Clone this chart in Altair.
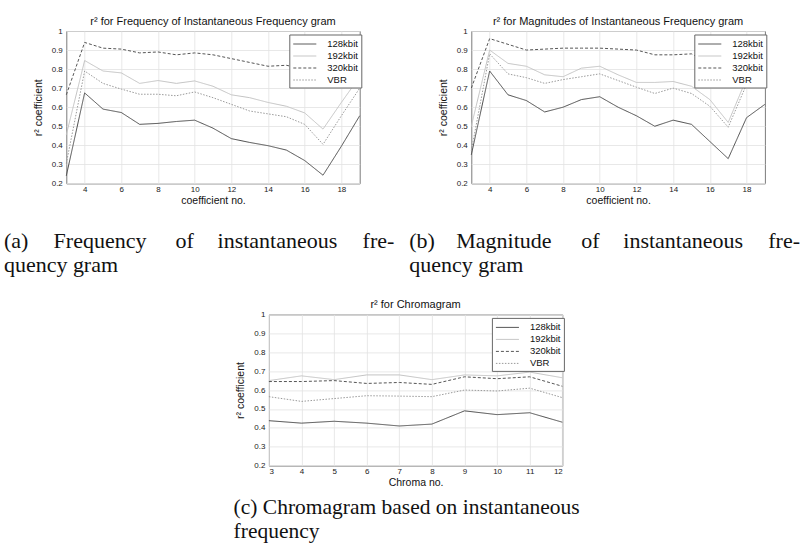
import altair as alt
import pandas as pd

# ---------------- data ----------------
rates = ["128kbit", "192kbit", "320kbit", "VBR"]
coef_no = list(range(3, 20))
chroma_no = list(range(3, 13))

# (a) Frequency of instantaneous frequency gram
a_128 = [0.24, 0.675, 0.59, 0.572, 0.51, 0.515, 0.525, 0.532, 0.49, 0.435, 0.415, 0.398, 0.375, 0.32, 0.243, 0.395, 0.555]
a_192 = [0.455, 0.845, 0.79, 0.78, 0.725, 0.74, 0.725, 0.738, 0.71, 0.665, 0.65, 0.625, 0.605, 0.57, 0.485, 0.625, 0.76]
a_320 = [0.665, 0.94, 0.91, 0.905, 0.885, 0.89, 0.875, 0.885, 0.875, 0.855, 0.835, 0.815, 0.82, 0.8, 0.75, 0.77, 0.79]
a_vbr = [0.305, 0.79, 0.725, 0.695, 0.668, 0.668, 0.66, 0.68, 0.65, 0.615, 0.58, 0.565, 0.55, 0.51, 0.405, 0.555, 0.70]

# (b) Magnitude of instantaneous frequency gram
b_128 = [0.35, 0.79, 0.665, 0.635, 0.575, 0.6, 0.64, 0.655, 0.6, 0.555, 0.5, 0.532, 0.51, 0.42, 0.33, 0.545, 0.615]
b_192 = [0.5, 0.9, 0.83, 0.815, 0.77, 0.76, 0.805, 0.815, 0.77, 0.73, 0.73, 0.735, 0.71, 0.64, 0.52, 0.75, 0.79]
b_320 = [0.7, 0.96, 0.93, 0.9, 0.905, 0.91, 0.91, 0.91, 0.905, 0.9, 0.875, 0.875, 0.88, 0.83, 0.78, 0.86, 0.92]
b_vbr = [0.37, 0.88, 0.775, 0.755, 0.725, 0.745, 0.76, 0.775, 0.74, 0.705, 0.672, 0.70, 0.672, 0.605, 0.495, 0.72, 0.78]

# (c) Chromagram
c_128 = [0.438, 0.425, 0.435, 0.425, 0.41, 0.42, 0.49, 0.47, 0.48, 0.43]
c_192 = [0.65, 0.675, 0.655, 0.68, 0.68, 0.655, 0.68, 0.675, 0.695, 0.665]
c_320 = [0.645, 0.645, 0.65, 0.635, 0.64, 0.63, 0.67, 0.66, 0.67, 0.62]
c_vbr = [0.565, 0.54, 0.555, 0.57, 0.568, 0.565, 0.6, 0.595, 0.61, 0.56]

y_ticks = [0.2, 0.3, 0.4, 0.5, 0.6, 0.7, 0.8, 0.9, 1.0]
coef_ticks = [4, 6, 8, 10, 12, 14, 16, 18]
chroma_ticks = chroma_no

titles = ["r\u00b2 for Frequency of Instantaneous Frequency gram",
          "r\u00b2 for Magnitudes of Instantaneous Frequency gram",
          "r\u00b2 for Chromagram"]
x_titles = ["coefficient no.", "coefficient no.", "Chroma no."]
y_title = "r\u00b2 coefficient"

cap_a1 = ["(a)", "Frequency", "of", "instantaneous", "fre-"]
cap_a2 = "quency gram"
cap_b1 = ["(b)", "Magnitude", "of", "instantaneous", "fre-"]
cap_b2 = "quency gram"
cap_c1 = ["(c) Chromagram based on instantaneous"]
cap_c2 = "frequency"

# ---------------- style ----------------
line_colors = ["#4a4a4a", "#c2c2c2", "#555555", "#9a9a9a"]
line_dashes = [[1, 0], [1, 0], [3, 2], [1.5, 1.5]]
line_widths = [1.0, 1.0, 1.0, 1.6]
SANS = "Liberation Sans"
SERIF = "Liberation Serif"

one = alt.Data(values=[{"k": 1}])


def long_df(xs, series):
    rows = []
    for rate, vals in zip(rates, series):
        for x, v in zip(xs, vals):
            rows.append({"x": x, "v": v, "rate": rate})
    return pd.DataFrame(rows)


def text_at(txt, px, py, **kw):
    return alt.Chart(one).mark_text(text=txt, **kw).encode(x=alt.value(px), y=alt.value(py))


def panel(xs, series, x_domain, x_ticks, title, x_title, cap1, cap1_x, cap2,
          cap_y1, cap_y2, w, h, cap_size):
    df = long_df(xs, series)
    leg = alt.Legend(title=None, orient="none", legendX=223, legendY=3.5)
    lines = alt.Chart(df).mark_line().encode(
        x=alt.X("x:Q", scale=alt.Scale(domain=x_domain, nice=False, zero=False),
                axis=alt.Axis(values=x_ticks, title=x_title, format="d")),
        y=alt.Y("v:Q", scale=alt.Scale(domain=[0.2, 1.0], nice=False, zero=False),
                axis=alt.Axis(values=y_ticks, title=y_title,
                              labelExpr="datum.value == 1 ? '1' : format(datum.value, '.1f')")),
        color=alt.Color("rate:N", scale=alt.Scale(domain=rates, range=line_colors), legend=leg),
        strokeDash=alt.StrokeDash("rate:N", scale=alt.Scale(domain=rates, range=line_dashes), legend=leg),
        strokeWidth=alt.StrokeWidth("rate:N", scale=alt.Scale(domain=rates, range=line_widths), legend=leg),
    )
    layers = [lines,
              text_at(title, w / 2, -9.5, font=SANS, fontSize=11, align="center",
                      baseline="middle", color="#111")]
    for word, px in zip(cap1, cap1_x):
        layers.append(text_at(word, px, cap_y1, font=SERIF, fontSize=cap_size, align="left",
                              baseline="alphabetic", color="#111"))
    layers.append(text_at(cap2, cap1_x[0], cap_y2, font=SERIF, fontSize=cap_size, align="left",
                          baseline="alphabetic", color="#111"))
    return alt.layer(*layers).properties(width=w, height=h)


pa = panel(coef_no, [a_128, a_192, a_320, a_vbr], [3, 19], coef_ticks, titles[0], x_titles[0],
           cap_a1, [-62.4, -12.7, 109.3, 151.3, 296.3], cap_a2, 216.5, 240.5, 293.4, 152.4, 22)
pb = panel(coef_no, [b_128, b_192, b_320, b_vbr], [3, 19], coef_ticks, titles[1], x_titles[1],
           cap_b1, [-62, -15, 110, 152, 297], cap_b2, 216.5, 240.5, 293.6, 152.4, 22)
pc = panel(chroma_no, [c_128, c_192, c_320, c_vbr], [3, 12], chroma_ticks, titles[2], x_titles[2],
           cap_c1, [-35.3], cap_c2, 199.5, 224, 293.4, 151.3, 21.5)

ghost = alt.Chart(one).mark_point(opacity=0).encode(
    x=alt.value(0), y=alt.value(0)
).properties(width=1, height=1, view=alt.ViewBackground(stroke="transparent"))

ind = dict(color="independent", strokeDash="independent", strokeWidth="independent")
row1 = alt.hconcat(pa, pb, spacing=111, bounds="flush").resolve_scale(**ind)
row2 = alt.hconcat(ghost, pc, spacing=201.6, bounds="flush").resolve_scale(**ind)

chart = alt.vconcat(row1, row2, spacing=283.4, bounds="flush").resolve_scale(**ind).properties(
    padding={"left": 3.3, "top": 15, "right": 0, "bottom": 0},
    background="white",
).configure_view(
    stroke="#7a7a7a", strokeWidth=1
).configure_axis(
    domain=False, ticks=False, labelFont=SANS, labelFontSize=8, labelColor="#222",
    titleFont=SANS, titleFontSize=10.5, titleFontWeight="normal", titleColor="#111",
    gridColor="#e2e2e2", gridWidth=0.8,
).configure_axisX(
    labelPadding=2, titlePadding=2
).configure_axisY(
    labelPadding=4, titlePadding=8
).configure_legend(
    strokeColor="#666", fillColor="white", padding=3, labelFont=SANS, labelFontSize=9.5,
    labelColor="#111", rowPadding=1, symbolType="M-2,0L2,0", symbolSize=132,
    symbolOffset=6, labelOffset=16, cornerRadius=0,
)

chart.save("out.html", embed_options={"renderer": "svg", "actions": False})
